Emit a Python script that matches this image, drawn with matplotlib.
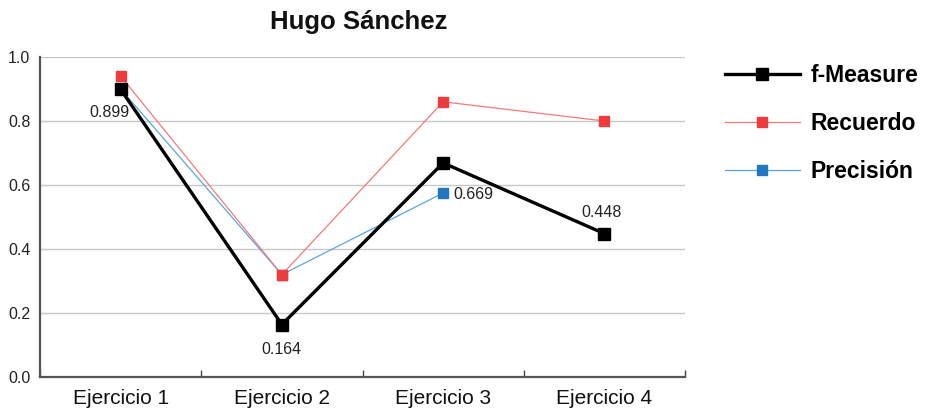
import numpy as np
import matplotlib
matplotlib.use("Agg")
import matplotlib.pyplot as plt

plt.rcParams['font.family'] = ['Liberation Sans', 'DejaVu Sans']

categories = ["Ejercicio 1", "Ejercicio 2", "Ejercicio 3", "Ejercicio 4"]
f_measure = [0.899, 0.164, 0.669, 0.448]
recuerdo = [0.94, 0.32, 0.86, 0.80]
precision = [0.90, 0.32, 0.575, np.nan]
f_labels = ["0.899", "0.164", "0.669", "0.448"]
y_ticks = [0.0, 0.2, 0.4, 0.6, 0.8, 1.0]

fig = plt.figure(figsize=(9.34, 4.13), dpi=100)
ax = fig.add_axes([40 / 934, 1 - 377 / 413, 645 / 934, 320 / 413])

x = np.arange(len(categories))
red = "#ee3b3b"
blue_line = "#5aa6dc"
blue_mark = "#2277c0"

ax.plot(x, precision, color=blue_line, lw=0.9, marker="s", ms=7,
        mfc=blue_mark, mec=blue_mark, label="Precisión", zorder=3)
ax.plot(x, recuerdo, color="#f47a7a", lw=0.9, marker="s", ms=7,
        mfc=red, mec=red, label="Recuerdo", zorder=4)
ax.plot(x, f_measure, color="black", lw=2.4, marker="s", ms=9,
        mfc="black", mec="black", label="f-Measure", zorder=5)

# value labels for the f-Measure series
offsets = [(-8, -17), (0, -18), (22, -23), (-2, 15)]
for xi, yi, txt, (dx, dy) in zip(x, f_measure, f_labels, offsets):
    ax.annotate(txt, (xi, yi), xytext=(dx, dy), textcoords="offset points",
                ha="center", va="center", fontsize=11.5, color="#222222")

ax.set_xlim(-0.5, 3.5)
ax.set_ylim(0, 1.0)
ax.set_yticks(y_ticks)
ax.set_yticklabels([f"{v:.1f}" for v in y_ticks], fontsize=11.5, color="#222222")
ax.set_xticks(x)
ax.set_xticklabels(categories, fontsize=15, color="#111111")
ax.tick_params(axis="x", length=0, pad=9)
ax.tick_params(axis="y", length=0, pad=7)

# category separators on the x axis
ax.set_xticks(np.arange(-0.5, 4.0, 1.0), minor=True)
ax.tick_params(axis="x", which="minor", direction="in", length=5,
               color="#444444", width=1)

ax.grid(axis="y", color="#c8c8c8", lw=1)
ax.set_axisbelow(True)
for side in ("top", "right"):
    ax.spines[side].set_visible(False)
for side in ("left", "bottom"):
    ax.spines[side].set_color("#555555")
    ax.spines[side].set_linewidth(1.6)

fig.text(359 / 934, 1 - 22 / 413, "Hugo Sánchez", ha="center", va="center",
         fontsize=18.5, fontweight="bold", color="#111111")

handles, labels = ax.get_legend_handles_labels()
order = [2, 1, 0]
fig.legend([handles[i] for i in order], [labels[i] for i in order],
           loc="upper left", bbox_to_anchor=(704 / 934, 1 - 43 / 413),
           frameon=False, prop={"size": 16.5, "weight": "bold"},
           handlelength=3.3, labelspacing=1.1, handletextpad=0.45)

fig.savefig("out.png", dpi=100)
